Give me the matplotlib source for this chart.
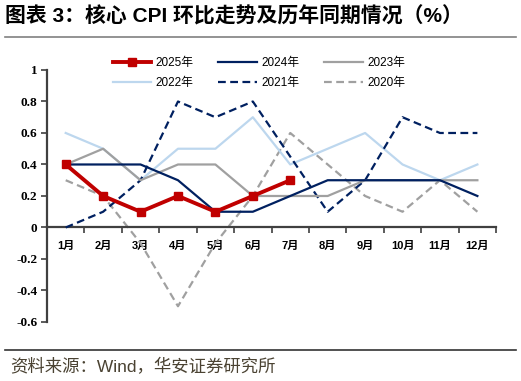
import matplotlib
matplotlib.use('Agg')
import matplotlib.pyplot as plt
from matplotlib.lines import Line2D

months = ['1月', '2月', '3月', '4月', '5月', '6月', '7月', '8月', '9月', '10月', '11月', '12月']
y2025 = [0.4, 0.2, 0.1, 0.2, 0.1, 0.2, 0.3]
y2024 = [0.4, 0.4, 0.4, 0.3, 0.1, 0.1, 0.2, 0.3, 0.3, 0.3, 0.3, 0.2]
y2023 = [0.4, 0.5, 0.3, 0.4, 0.4, 0.2, 0.2, 0.2, 0.3, 0.3, 0.3, 0.3]
y2022 = [0.6, 0.5, 0.3, 0.5, 0.5, 0.7, 0.4, 0.5, 0.6, 0.4, 0.3, 0.4]
y2021 = [0.0, 0.1, 0.3, 0.8, 0.7, 0.8, 0.45, 0.1, 0.3, 0.7, 0.6, 0.6]
y2020 = [0.3, 0.2, -0.1, -0.5, -0.1, 0.2, 0.6, 0.4, 0.2, 0.1, 0.3, 0.1]
yticks = [-0.6, -0.4, -0.2, 0, 0.2, 0.4, 0.6, 0.8, 1]
ytick_labels = ['-0.6', '-0.4', '-0.2', '0', '0.2', '0.4', '0.6', '0.8', '1']

CJK = ['Liberation Sans', 'Noto Sans CJK SC']
plt.rcParams['font.family'] = CJK

RED = '#C00000'
NAVY = '#002060'
GRAY = '#A0A0A0'
LBLUE = '#BDD7EE'
SPINE = '#404040'

fig = plt.figure(figsize=(5.21, 3.81), dpi=100)
ax = fig.add_axes([0.0902, 0.1549, 0.862, 0.6614])

x = list(range(1, 13))
l20, = ax.plot(x, y2020, color=GRAY, lw=1.6, ls=(0, (3.5, 2)), label='2020年', zorder=2)
l21, = ax.plot(x, y2021, color=NAVY, lw=1.6, ls=(0, (3.5, 2)), label='2021年', zorder=3)
l22, = ax.plot(x, y2022, color=LBLUE, lw=1.6, label='2022年', zorder=2)
l23, = ax.plot(x, y2023, color=GRAY, lw=1.6, label='2023年', zorder=3)
l24, = ax.plot(x, y2024, color=NAVY, lw=1.6, label='2024年', zorder=4)
l25, = ax.plot(x[:len(y2025)], y2025, color=RED, lw=2.8, marker='s', ms=5.5,
               label='2025年', zorder=5)

ax.set_xlim(0.5, 12.5)
ax.set_ylim(-0.6, 1)
ax.spines['top'].set_visible(False)
ax.spines['right'].set_visible(False)
ax.spines['bottom'].set_position(('data', 0))
for s in ('left', 'bottom'):
    ax.spines[s].set_color(SPINE)
    ax.spines[s].set_linewidth(1.6)

ax.set_yticks(yticks)
ax.set_yticklabels(ytick_labels, fontfamily='Liberation Serif', fontweight='bold', fontsize=9.5)
ax.tick_params(axis='y', direction='out', length=4, width=1.2, color=SPINE, pad=3)

ax.set_xticks(x)
ax.set_xticklabels(months, fontfamily=['Liberation Sans', 'Noto Sans CJK SC'],
                   fontweight='bold', fontsize=8)
ax.tick_params(axis='x', which='major', length=0, pad=10)
ax.set_xticks([i + 0.5 for i in range(0, 13)], minor=True)
ax.tick_params(axis='x', which='minor', direction='out', length=4, width=1.2, color=SPINE)

handles = [l25, l22, l24, l21, l23, l20]
fig.legend(handles=handles, labels=[h.get_label() for h in handles], ncol=3,
           loc='center', bbox_to_anchor=(0.497, 0.808), frameon=False,
           fontsize=8.5, handlelength=3.3, columnspacing=2.1, handletextpad=0.35,
           labelspacing=0.7)

fig.text(0.01, 0.958, '图表 3：核心 CPI 环比走势及历年同期情况（%）', fontsize=15,
         fontweight='heavy', va='center', ha='left')
fig.add_artist(Line2D([0.01, 0.99], [0.903, 0.903], color='#808080', lw=1.2,
                      transform=fig.transFigure))
fig.add_artist(Line2D([0.01, 0.99], [0.081, 0.081], color='#333333', lw=1.2,
                      transform=fig.transFigure))
fig.text(0.02, 0.038, '资料来源：Wind，华安证券研究所', fontsize=12.5,
         color='#4A4232', va='center', ha='left')

fig.savefig('out.png', dpi=100)
